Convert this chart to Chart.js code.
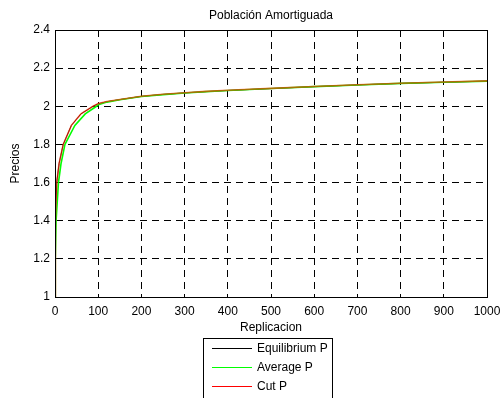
<!DOCTYPE html>
<html>
<head>
<meta charset="utf-8">
<script src="https://cdn.jsdelivr.net/npm/chart.js@4.4.0/dist/chart.umd.min.js"></script>
<style>
  html, body { margin: 0; padding: 0; background: #fff; }
  #wrap { width: 500px; height: 398px; }
</style>
</head>
<body>
<div id="wrap"><canvas id="chart" width="500" height="398"></canvas></div>
<script>
// --- Data ---
const xTickValues = [0, 100, 200, 300, 400, 500, 600, 700, 800, 900, 1000];
const xTickLabels = ['0', '100', '200', '300', '400', '500', '600', '700', '800', '900', '1000'];
const yTickValues = [1, 1.2, 1.4, 1.6, 1.8, 2, 2.2, 2.4];
const yTickLabels = ['1', '1.2', '1.4', '1.6', '1.8', '2', '2.2', '2.4'];

const seriesNames = ['Equilibrium P', 'Average P', 'Cut P'];
const seriesColors = ['#000000', '#00ff00', '#ff0000'];

const equilibriumX = [0, 0.5, 1.5, 4, 9.5, 19, 38, 60, 88, 100, 120, 150, 200, 250, 300, 350, 400, 450, 500, 600, 700, 800, 900, 1000];
const equilibriumY = [1, 1.2, 1.4, 1.6, 1.7, 1.8, 1.9, 1.96, 2.0, 2.013, 2.024, 2.035, 2.052, 2.062, 2.07, 2.077, 2.083, 2.088, 2.093, 2.103, 2.112, 2.12, 2.126, 2.132];

const averageX = [0, 0.7, 2.5, 8, 14, 23, 46, 70, 96, 100, 120, 150, 200, 250, 300, 350, 400, 450, 500, 600, 700, 800, 900, 1000];
const averageY = [1, 1.2, 1.4, 1.6, 1.7, 1.8, 1.9, 1.96, 2.0, 2.008, 2.022, 2.034, 2.051, 2.061, 2.07, 2.077, 2.083, 2.088, 2.093, 2.103, 2.112, 2.12, 2.126, 2.132];

const cutX = [0, 0.5, 1.5, 4, 9.5, 19, 38, 60, 88, 100, 120, 150, 200, 250, 300, 350, 400, 450, 500, 600, 700, 800, 900, 1000];
const cutY = [1, 1.2, 1.4, 1.6, 1.7, 1.8, 1.9, 1.96, 2.0, 2.014, 2.025, 2.036, 2.053, 2.063, 2.071, 2.078, 2.084, 2.089, 2.094, 2.104, 2.113, 2.121, 2.127, 2.133];

function toPoints(xs, ys) {
  return xs.map((x, i) => ({ x: x, y: ys[i] }));
}

const FONT = 'Liberation Sans, Arial, sans-serif';

// --- Plot box, title and MATLAB-style legend ---
const framePlugin = {
  id: 'framePlugin',
  afterDraw(chart) {
    const ctx = chart.ctx;
    const a = chart.chartArea;
    ctx.save();
    ctx.strokeStyle = '#000';
    ctx.lineWidth = 1;
    ctx.setLineDash([]);
    ctx.strokeRect(Math.round(a.left) + 0.5, Math.round(a.top) + 0.5,
      Math.round(a.right - a.left), Math.round(a.bottom - a.top));

    // title
    ctx.fillStyle = '#000';
    ctx.font = '12px ' + FONT;
    ctx.textAlign = 'center';
    ctx.textBaseline = 'middle';
    ctx.fillText('Población Amortiguada', (a.left + a.right) / 2, 16);

    // legend box
    const boxLeft = 203.5, boxTop = 338.5, boxW = 129, boxH = 64;
    ctx.fillStyle = '#fff';
    ctx.fillRect(boxLeft, boxTop, boxW, boxH);
    ctx.strokeRect(boxLeft, boxTop, boxW, boxH);
    ctx.textAlign = 'left';
    chart.data.datasets.forEach((ds, i) => {
      const y = 348.5 + i * 19;
      ctx.strokeStyle = seriesColors[i];
      ctx.beginPath();
      ctx.moveTo(212, y);
      ctx.lineTo(252, y);
      ctx.stroke();
      ctx.fillStyle = '#000';
      ctx.fillText(ds.label, 257, y);
    });
    ctx.restore();
  }
};

// red drawn slightly see-through over green, like the blended trace in the picture
const datasets = [
  { label: seriesNames[0], data: toPoints(equilibriumX, equilibriumY), borderColor: seriesColors[0], borderWidth: 1, order: 3 },
  { label: seriesNames[1], data: toPoints(averageX, averageY), borderColor: seriesColors[1], borderWidth: 1.6, order: 2 },
  { label: seriesNames[2], data: toPoints(cutX, cutY), borderColor: 'rgba(255,40,0,0.65)', borderWidth: 1.6, order: 1 }
].map(d => Object.assign(d, { pointRadius: 0, tension: 0, fill: false }));

new Chart(document.getElementById('chart'), {
  type: 'line',
  data: { datasets: datasets },
  options: {
    responsive: false,
    animation: false,
    devicePixelRatio: 1,
    layout: { padding: { top: 30, right: 13, bottom: 63, left: 0 } },
    plugins: {
      legend: { display: false },
      tooltip: { enabled: false },
      title: { display: false }
    },
    scales: {
      x: {
        type: 'linear',
        min: 0,
        max: 1000,
        afterBuildTicks(scale) { scale.ticks = xTickValues.map(v => ({ value: v })); },
        afterFit(scale) { scale.height = 38; scale.paddingLeft = 0; scale.paddingRight = 0; },
        ticks: {
          color: '#000',
          font: { family: FONT, size: 12 },
          padding: 7,
          maxRotation: 0,
          autoSkip: false,
          callback: (v) => xTickLabels[xTickValues.indexOf(v)]
        },
        grid: {
          color: '#000',
          lineWidth: 1,
          drawTicks: false
        },
        border: { display: true, color: '#000', dash: [7, 5] },
        title: {
          display: true,
          text: 'Replicacion',
          color: '#000',
          font: { family: FONT, size: 12 },
          padding: 0
        }
      },
      y: {
        type: 'linear',
        min: 1,
        max: 2.4,
        afterBuildTicks(scale) { scale.ticks = yTickValues.map(v => ({ value: v })); },
        afterFit(scale) { scale.width = 55; scale.paddingTop = 0; scale.paddingBottom = 0; },
        ticks: {
          color: '#000',
          font: { family: FONT, size: 12 },
          padding: 5,
          autoSkip: false,
          callback: (v) => yTickLabels[yTickValues.findIndex(t => Math.abs(t - v) < 1e-9)]
        },
        grid: {
          color: '#000',
          lineWidth: 1,
          drawTicks: false
        },
        border: { display: true, color: '#000', dash: [7, 5] },
        title: {
          display: true,
          text: 'Precios',
          color: '#000',
          font: { family: FONT, size: 12 },
          padding: { top: 8, bottom: 0 }
        }
      }
    }
  },
  plugins: [framePlugin]
});
</script>
</body>
</html>
